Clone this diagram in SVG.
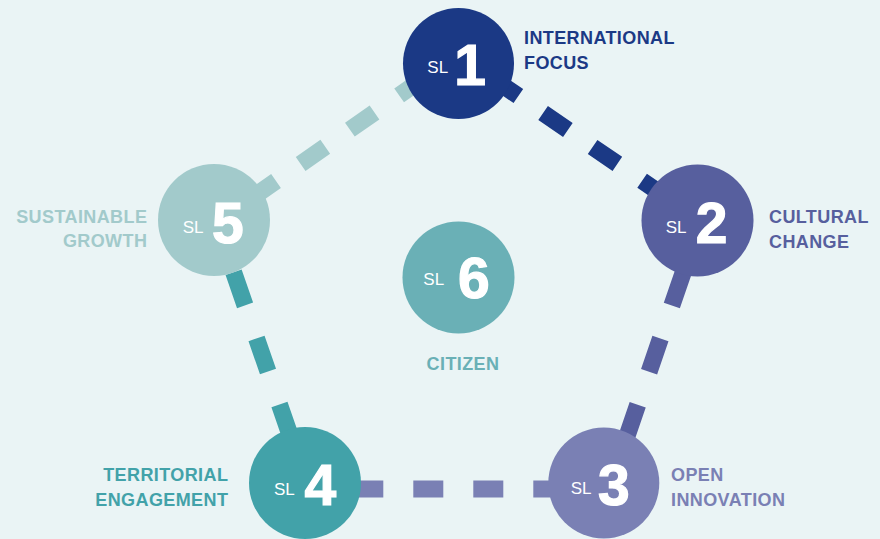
<svg xmlns="http://www.w3.org/2000/svg" width="880" height="539" viewBox="0 0 880 539">
  <style>
    .lbl { font-family: "Liberation Sans", Arial, sans-serif; font-weight: bold; font-size: 18px; letter-spacing: 0.4px; }
    .sl { font-family: "Liberation Sans", Arial, sans-serif; font-size: 17px; fill: #ffffff; }
    .num { font-family: "Liberation Sans", Arial, sans-serif; font-weight: bold; font-size: 57px; fill: #ffffff; stroke: #ffffff; stroke-width: 1.2; text-anchor: middle; }
    .dash { fill: none; stroke-width: 17; stroke-dasharray: 30 30; }
    .dash35 { fill: none; stroke-width: 17; stroke-dasharray: 35 35; }
  </style>
  <rect x="0" y="0" width="880" height="539" fill="#eaf4f5"/>

  <g id="connectors">
    <path class="dash" stroke="#1b3985" d="M 444.1 45.2 L 666.9 197.8"/>
    <path class="dash35" stroke="#575f9e" d="M 683.2 272.4 L 626.3 438.0"/>
    <path class="dash" stroke="#7a80b4" d="M 353.3 489 L 563.3 489"/>
    <path class="dash35" stroke="#42a2a9" d="M 233.6 272.3 L 291.0 437.9"/>
    <path class="dash" stroke="#a2cacb" d="M 251.4 198.2 L 422.9 78.8"/>
  </g>

  <g id="node-sl1">
    <circle cx="458.5" cy="63.5" r="55.5" fill="#1b3985"/>
    <text class="sl" x="427.3" y="72.7">SL</text>
    <text class="num" x="470" y="85">1</text>
    <text class="lbl" fill="#1b3985" x="524" y="44.3">INTERNATIONAL</text>
    <text class="lbl" fill="#1b3985" x="524" y="69">FOCUS</text>
  </g>

  <g id="node-sl2">
    <circle cx="697.5" cy="220.5" r="56" fill="#575f9e"/>
    <text class="sl" x="665.7" y="232.7">SL</text>
    <text class="num" x="711.7" y="242.7">2</text>
    <text class="lbl" fill="#575f9e" x="769" y="222.7">CULTURAL</text>
    <text class="lbl" fill="#575f9e" x="769" y="247.5">CHANGE</text>
  </g>

  <g id="node-sl3">
    <circle cx="603.8" cy="483" r="55.5" fill="#7a80b4"/>
    <text class="sl" x="570.7" y="494.3">SL</text>
    <text class="num" x="613.8" y="505">3</text>
    <text class="lbl" fill="#7a80b4" x="671" y="481">OPEN</text>
    <text class="lbl" fill="#7a80b4" x="671" y="506">INNOVATION</text>
  </g>

  <g id="node-sl4">
    <circle cx="305" cy="483" r="56" fill="#42a2a9"/>
    <text class="sl" x="274" y="494.5">SL</text>
    <text class="num" x="320.3" y="505">4</text>
    <text class="lbl" fill="#42a2a9" x="228.3" y="481" text-anchor="end">TERRITORIAL</text>
    <text class="lbl" fill="#42a2a9" x="228.3" y="506" text-anchor="end">ENGAGEMENT</text>
  </g>

  <g id="node-sl5">
    <circle cx="214" cy="220" r="56" fill="#a2cacb"/>
    <text class="sl" x="182.7" y="233.3">SL</text>
    <text class="num" x="227.8" y="242.7">5</text>
    <text class="lbl" fill="#a2cacb" x="147.3" y="222.7" text-anchor="end">SUSTAINABLE</text>
    <text class="lbl" fill="#a2cacb" x="147.3" y="246.7" text-anchor="end">GROWTH</text>
  </g>

  <g id="node-sl6">
    <circle cx="458.5" cy="277.5" r="56" fill="#6ab0b6"/>
    <text class="sl" x="423.3" y="285">SL</text>
    <text class="num" x="473.8" y="298.3">6</text>
    <text class="lbl" fill="#6ab0b6" x="463" y="370" text-anchor="middle">CITIZEN</text>
  </g>
</svg>
